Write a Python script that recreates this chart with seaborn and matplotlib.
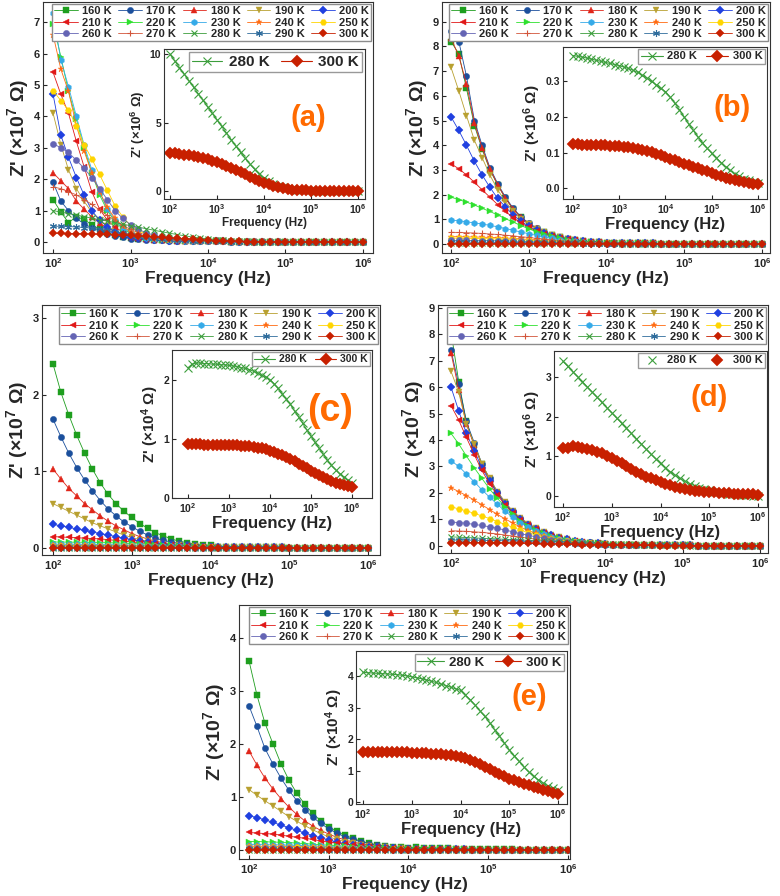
import pandas as pd
import seaborn as sns
import matplotlib.pyplot as plt

# frequency grid (Hz), 10 points per decade
freq = [100, 126, 158, 200, 251, 316, 398, 501, 631, 794,
        1000, 1259, 1585, 1995, 2512, 3162, 3981, 5012, 6310, 7943,
        10000, 12589, 15849, 19953, 25119, 31623, 39811, 50119, 63096, 79433,
        100000, 125893, 158489, 199526, 251189, 316228, 398107, 501187, 630957, 794328,
        1000000]

temps = [160, 170, 180, 190, 200, 210, 220, 230, 240, 250, 260, 270, 280, 290, 300]

# high-frequency tails (read as ~0 beyond 10 kHz)
tail_hi = [0.05, 0.045, 0.04, 0.035, 0.03, 0.027, 0.024, 0.021, 0.018, 0.016,
           0.014, 0.012, 0.01, 0.009, 0.008, 0.007, 0.006, 0.005, 0.004, 0.003]
tail_lo = [0.02, 0.018, 0.016, 0.014, 0.012, 0.011, 0.01, 0.009, 0.008, 0.007,
           0.006, 0.005, 0.005, 0.004, 0.004, 0.003, 0.003, 0.002, 0.002, 0.001]
tail_min = [0.003, 0.003, 0.003, 0.002, 0.002, 0.002, 0.002, 0.002, 0.002, 0.001,
            0.001, 0.001, 0.001, 0.001, 0.001, 0.001, 0.0, 0.0, 0.0, 0.0]

# ---- panel (a), Z' in 1e7 ohm, 100 Hz .. 10 kHz
a160 = [1.35, 0.95, 0.62, 0.80, 0.72, 0.55, 0.40, 0.30, 0.22, 0.16, 0.12, 0.10, 0.08, 0.07, 0.06, 0.05, 0.045, 0.04, 0.035, 0.03, 0.025]
a170 = [1.9, 1.3, 1.0, 0.75, 0.58, 0.45, 0.35, 0.27, 0.2, 0.15, 0.11, 0.09, 0.07, 0.06, 0.05, 0.04, 0.035, 0.03, 0.025, 0.02, 0.02]
a180 = [2.2, 1.95, 1.7, 1.3, 1.05, 0.8, 0.6, 0.45, 0.33, 0.24, 0.17, 0.12, 0.09, 0.07, 0.06, 0.05, 0.04, 0.035, 0.03, 0.025, 0.02]
a190 = [4.1, 3.1, 2.3, 1.7, 1.3, 0.95, 0.7, 0.5, 0.36, 0.26, 0.19, 0.14, 0.1, 0.08, 0.065, 0.055, 0.045, 0.04, 0.035, 0.03, 0.025]
a200 = [4.7, 3.4, 2.7, 2.05, 1.5, 1.0, 0.7, 0.48, 0.33, 0.23, 0.16, 0.12, 0.09, 0.07, 0.055, 0.045, 0.04, 0.035, 0.03, 0.025, 0.02]
a210 = [5.4, 4.7, 4.1, 3.2, 2.4, 1.6, 1.05, 0.7, 0.47, 0.32, 0.22, 0.16, 0.12, 0.09, 0.07, 0.06, 0.05, 0.04, 0.035, 0.03, 0.025]
a220 = [6.95, 5.9, 4.8, 3.9, 3.0, 2.2, 1.5, 1.0, 0.65, 0.42, 0.28, 0.19, 0.13, 0.09, 0.07, 0.06, 0.05, 0.04, 0.035, 0.03, 0.025]
a230 = [7.28, 5.8, 4.95, 4.0, 3.1, 2.3, 1.6, 1.05, 0.7, 0.45, 0.3, 0.2, 0.14, 0.1, 0.08, 0.06, 0.05, 0.04, 0.035, 0.03, 0.025]
a240 = [6.6, 5.5, 4.8, 3.7, 2.9, 2.2, 1.6, 1.1, 0.75, 0.5, 0.33, 0.23, 0.16, 0.11, 0.08, 0.06, 0.05, 0.04, 0.035, 0.03, 0.025]
a250 = [4.82, 4.5, 4.2, 3.7, 3.1, 2.65, 2.15, 1.65, 1.15, 0.8, 0.52, 0.36, 0.26, 0.19, 0.14, 0.11, 0.09, 0.07, 0.06, 0.05, 0.04]
a260 = [3.13, 3.0, 2.85, 2.6, 2.35, 2.05, 1.7, 1.35, 1.0, 0.75, 0.55, 0.4, 0.3, 0.22, 0.16, 0.12, 0.09, 0.07, 0.06, 0.05, 0.04]
a270 = [1.75, 1.7, 1.6, 1.5, 1.35, 1.2, 1.02, 0.85, 0.68, 0.53, 0.4, 0.3, 0.22, 0.16, 0.12, 0.09, 0.07, 0.06, 0.05, 0.04, 0.035]
a290 = [0.5, 0.5, 0.49, 0.48, 0.46, 0.44, 0.41, 0.37, 0.33, 0.28, 0.23, 0.19, 0.15, 0.12, 0.1, 0.08, 0.065, 0.055, 0.045, 0.04, 0.035]
# inset (a), 1e6 ohm
ia280 = [10.0, 9.52, 9.04, 8.56, 8.08, 7.6, 7.12, 6.64, 6.16, 5.68, 5.2, 4.72, 4.24, 3.76, 3.28, 2.82, 2.38, 1.96, 1.58, 1.25,
         0.96, 0.72, 0.53, 0.38, 0.27, 0.19, 0.13, 0.09, 0.06, 0.04, 0.03, 0.02, 0.015, 0.01, 0.01, 0.005, 0.005, 0.0, 0.0, 0.0, 0.0]
ia300 = [2.8, 2.75, 2.7, 2.65, 2.6, 2.55, 2.5, 2.42, 2.33, 2.22, 2.1, 1.97, 1.83, 1.68, 1.52, 1.36, 1.2, 1.04, 0.88, 0.73,
         0.6, 0.47, 0.36, 0.27, 0.19, 0.13, 0.09, 0.06, 0.04, 0.03, 0.02, 0.015, 0.01, 0.01, 0.01, 0.01, 0.005, 0.005, 0.005, 0.0, 0.0]

# ---- panel (b)
b160 = [8.2, 7.7, 6.3, 4.8, 3.85, 3.0, 2.4, 1.85, 1.42, 1.08, 0.83, 0.63, 0.48, 0.37, 0.28, 0.21, 0.16, 0.12, 0.1, 0.08, 0.06]
b170 = [8.62, 8.2, 6.8, 5.0, 4.0, 3.1, 2.45, 1.9, 1.45, 1.1, 0.85, 0.65, 0.5, 0.38, 0.29, 0.22, 0.17, 0.13, 0.1, 0.08, 0.06]
b180 = [8.35, 7.6, 6.5, 4.9, 3.9, 3.05, 2.4, 1.85, 1.42, 1.08, 0.83, 0.64, 0.49, 0.37, 0.28, 0.21, 0.16, 0.12, 0.1, 0.08, 0.06]
b190 = [7.15, 6.2, 5.2, 4.2, 3.5, 2.8, 2.2, 1.72, 1.33, 1.02, 0.8, 0.62, 0.48, 0.37, 0.28, 0.21, 0.16, 0.12, 0.1, 0.08, 0.06]
b200 = [5.15, 4.6, 4.0, 3.35, 2.8, 2.3, 1.85, 1.5, 1.18, 0.92, 0.72, 0.56, 0.44, 0.34, 0.26, 0.2, 0.15, 0.12, 0.09, 0.07, 0.05]
b210 = [3.25, 3.05, 2.8, 2.5, 2.2, 1.9, 1.6, 1.32, 1.07, 0.86, 0.68, 0.53, 0.41, 0.32, 0.25, 0.19, 0.15, 0.11, 0.09, 0.07, 0.05]
b220 = [1.9, 1.8, 1.7, 1.58, 1.45, 1.32, 1.18, 1.03, 0.89, 0.75, 0.62, 0.5, 0.4, 0.31, 0.24, 0.18, 0.14, 0.1, 0.08, 0.06, 0.05]
b230 = [0.97, 0.94, 0.9, 0.86, 0.81, 0.76, 0.7, 0.63, 0.56, 0.49, 0.42, 0.35, 0.29, 0.23, 0.18, 0.14, 0.11, 0.08, 0.06, 0.05, 0.04]
b240 = [0.3, 0.3, 0.29, 0.29, 0.28, 0.27, 0.26, 0.25, 0.23, 0.21, 0.19, 0.17, 0.15, 0.12, 0.1, 0.08, 0.07, 0.06, 0.05, 0.04, 0.03]
b250 = [0.24, 0.24, 0.23, 0.23, 0.22, 0.22, 0.21, 0.2, 0.19, 0.17, 0.16, 0.14, 0.12, 0.1, 0.09, 0.07, 0.06, 0.05, 0.04, 0.03, 0.03]
b260 = [0.15, 0.15, 0.15, 0.14, 0.14, 0.14, 0.13, 0.13, 0.12, 0.11, 0.1, 0.09, 0.08, 0.07, 0.06, 0.05, 0.04, 0.035, 0.03, 0.025, 0.02]
b270 = [0.48, 0.47, 0.46, 0.45, 0.43, 0.41, 0.39, 0.36, 0.33, 0.3, 0.27, 0.23, 0.2, 0.17, 0.14, 0.11, 0.09, 0.07, 0.06, 0.05, 0.04]
b290 = [0.08, 0.08, 0.08, 0.08, 0.075, 0.075, 0.07, 0.07, 0.065, 0.06, 0.055, 0.05, 0.045, 0.04, 0.035, 0.03, 0.025, 0.02, 0.02, 0.015, 0.015]
ib280 = [0.371, 0.369, 0.367, 0.364, 0.361, 0.358, 0.355, 0.352, 0.349, 0.346, 0.343, 0.339, 0.335, 0.33, 0.324, 0.316, 0.308, 0.299, 0.289, 0.279,
         0.27, 0.255, 0.238, 0.22, 0.2, 0.18, 0.162, 0.144, 0.127, 0.112, 0.098, 0.085, 0.072, 0.06, 0.05, 0.041, 0.034, 0.027, 0.022, 0.018, 0.014]
ib300 = [0.123, 0.123, 0.122, 0.122, 0.121, 0.121, 0.12, 0.12, 0.119, 0.118, 0.117, 0.116, 0.114, 0.112, 0.11, 0.107, 0.104, 0.101, 0.097, 0.093,
         0.088, 0.083, 0.079, 0.074, 0.069, 0.065, 0.06, 0.056, 0.051, 0.047, 0.042, 0.038, 0.034, 0.03, 0.026, 0.023, 0.02, 0.018, 0.015, 0.013, 0.011]

# ---- panel (c)
c160 = [2.4, 2.03, 1.74, 1.47, 1.24, 1.03, 0.85, 0.7, 0.58, 0.48, 0.4, 0.32, 0.26, 0.2, 0.16, 0.12, 0.09, 0.07, 0.055, 0.045, 0.035]
c170 = [1.68, 1.45, 1.24, 1.05, 0.89, 0.75, 0.62, 0.51, 0.42, 0.34, 0.28, 0.22, 0.17, 0.13, 0.1, 0.08, 0.06, 0.05, 0.04, 0.03, 0.025]
c180 = [1.03, 0.9, 0.78, 0.68, 0.58, 0.5, 0.42, 0.35, 0.29, 0.24, 0.19, 0.15, 0.12, 0.09, 0.07, 0.055, 0.045, 0.035, 0.03, 0.025, 0.02]
c190 = [0.58, 0.53, 0.48, 0.43, 0.38, 0.33, 0.29, 0.25, 0.21, 0.17, 0.14, 0.11, 0.09, 0.07, 0.055, 0.045, 0.035, 0.03, 0.025, 0.02, 0.015]
c200 = [0.31, 0.29, 0.27, 0.25, 0.23, 0.21, 0.19, 0.17, 0.15, 0.13, 0.11, 0.09, 0.075, 0.06, 0.05, 0.04, 0.03, 0.025, 0.02, 0.017, 0.015]
c210 = [0.15, 0.145, 0.14, 0.135, 0.13, 0.125, 0.12, 0.11, 0.1, 0.09, 0.08, 0.07, 0.06, 0.05, 0.04, 0.035, 0.03, 0.025, 0.02, 0.015, 0.012]
c220 = [0.08, 0.079, 0.078, 0.077, 0.076, 0.074, 0.072, 0.07, 0.067, 0.064, 0.06, 0.055, 0.05, 0.045, 0.04, 0.035, 0.03, 0.025, 0.02, 0.016, 0.013]
c230 = [0.05, 0.05, 0.049, 0.049, 0.048, 0.047, 0.046, 0.045, 0.043, 0.041, 0.039, 0.036, 0.033, 0.03, 0.027, 0.024, 0.021, 0.018, 0.015, 0.013, 0.011]
c240 = [0.035, 0.035, 0.035, 0.034, 0.034, 0.033, 0.033, 0.032, 0.031, 0.03, 0.028, 0.026, 0.024, 0.022, 0.02, 0.018, 0.016, 0.014, 0.012, 0.01, 0.009]
c250 = [0.025, 0.025, 0.025, 0.025, 0.024, 0.024, 0.024, 0.023, 0.023, 0.022, 0.021, 0.02, 0.019, 0.017, 0.016, 0.014, 0.013, 0.011, 0.01, 0.009, 0.008]
c260 = [0.015, 0.015, 0.015, 0.015, 0.015, 0.015, 0.014, 0.014, 0.014, 0.013, 0.013, 0.012, 0.012, 0.011, 0.01, 0.01, 0.009, 0.008, 0.007, 0.006, 0.006]
c270 = [0.01, 0.01, 0.01, 0.01, 0.01, 0.01, 0.01, 0.01, 0.009, 0.009, 0.009, 0.009, 0.008, 0.008, 0.007, 0.007, 0.006, 0.006, 0.005, 0.005, 0.004]
c290 = [0.005, 0.005, 0.005, 0.005, 0.005, 0.005, 0.005, 0.005, 0.005, 0.005, 0.005, 0.005, 0.005, 0.004, 0.004, 0.004, 0.004, 0.003, 0.003, 0.003, 0.003]
# inset (c), 1e4 ohm
ic280 = [2.2, 2.26, 2.28, 2.28, 2.27, 2.27, 2.26, 2.26, 2.25, 2.25, 2.24, 2.23, 2.22, 2.2, 2.19, 2.17, 2.14, 2.11, 2.07, 2.04,
         2.0, 1.93, 1.85, 1.76, 1.67, 1.58, 1.47, 1.37, 1.26, 1.15, 1.05, 0.94, 0.84, 0.74, 0.64, 0.55, 0.48, 0.41, 0.35, 0.3, 0.26]
ic300 = [0.91, 0.91, 0.91, 0.91, 0.9, 0.9, 0.9, 0.9, 0.9, 0.9, 0.89, 0.89, 0.89, 0.88, 0.88, 0.87, 0.86, 0.85, 0.84, 0.82,
         0.8, 0.78, 0.75, 0.72, 0.69, 0.66, 0.62, 0.58, 0.54, 0.5, 0.46, 0.42, 0.39, 0.35, 0.32, 0.29, 0.26, 0.24, 0.22, 0.2, 0.18]

# ---- panel (d)
d160 = [8.1, 6.2, 4.7, 3.8, 3.1, 2.5, 2.0, 1.6, 1.25, 0.95, 0.72, 0.55, 0.42, 0.32, 0.25, 0.19, 0.15, 0.12, 0.1, 0.08, 0.065]
d170 = [7.4, 6.1, 4.7, 3.9, 3.1, 2.55, 2.05, 1.65, 1.3, 1.05, 0.84, 0.67, 0.53, 0.42, 0.33, 0.26, 0.2, 0.16, 0.13, 0.1, 0.08]
d180 = [7.3, 5.9, 4.6, 3.8, 3.05, 2.5, 2.0, 1.6, 1.27, 1.02, 0.82, 0.65, 0.52, 0.41, 0.32, 0.25, 0.2, 0.16, 0.12, 0.1, 0.08]
d190 = [6.6, 5.8, 4.6, 3.85, 3.1, 2.55, 2.05, 1.65, 1.3, 1.04, 0.83, 0.66, 0.52, 0.41, 0.32, 0.25, 0.2, 0.16, 0.12, 0.1, 0.08]
d200 = [6.0, 5.1, 4.25, 3.6, 2.95, 2.45, 1.98, 1.6, 1.27, 1.0, 0.8, 0.63, 0.5, 0.4, 0.31, 0.25, 0.2, 0.15, 0.12, 0.1, 0.08]
d210 = [5.3, 4.75, 4.1, 3.45, 2.85, 2.35, 1.92, 1.55, 1.23, 0.98, 0.78, 0.62, 0.49, 0.39, 0.31, 0.24, 0.19, 0.15, 0.12, 0.1, 0.08]
d220 = [4.25, 3.85, 3.4, 2.95, 2.55, 2.15, 1.8, 1.48, 1.19, 0.95, 0.76, 0.6, 0.48, 0.38, 0.3, 0.24, 0.19, 0.15, 0.12, 0.1, 0.08]
d230 = [3.22, 3.0, 2.72, 2.42, 2.12, 1.84, 1.57, 1.31, 1.08, 0.88, 0.7, 0.55, 0.43, 0.34, 0.27, 0.21, 0.17, 0.13, 0.1, 0.08, 0.07]
d240 = [2.2, 2.05, 1.9, 1.73, 1.55, 1.37, 1.19, 1.02, 0.86, 0.71, 0.58, 0.47, 0.38, 0.3, 0.24, 0.19, 0.15, 0.12, 0.1, 0.08, 0.06]
d250 = [1.47, 1.4, 1.32, 1.23, 1.13, 1.03, 0.92, 0.81, 0.7, 0.6, 0.5, 0.41, 0.33, 0.27, 0.22, 0.18, 0.14, 0.11, 0.09, 0.07, 0.06]
d260 = [0.9, 0.88, 0.85, 0.81, 0.77, 0.72, 0.66, 0.6, 0.53, 0.46, 0.4, 0.34, 0.28, 0.23, 0.19, 0.15, 0.12, 0.1, 0.08, 0.06, 0.05]
d270 = [0.57, 0.56, 0.55, 0.53, 0.51, 0.48, 0.45, 0.41, 0.37, 0.33, 0.29, 0.25, 0.21, 0.18, 0.15, 0.12, 0.1, 0.08, 0.065, 0.05, 0.04]
d290 = [0.22, 0.22, 0.22, 0.21, 0.21, 0.2, 0.2, 0.19, 0.18, 0.17, 0.16, 0.15, 0.13, 0.12, 0.1, 0.09, 0.08, 0.07, 0.06, 0.05, 0.04]
id280 = [3.4, 3.27, 3.14, 3.01, 2.88, 2.75, 2.62, 2.49, 2.36, 2.23, 2.1, 1.97, 1.84, 1.71, 1.58, 1.45, 1.32, 1.19, 1.06, 0.94,
         0.82, 0.71, 0.61, 0.52, 0.44, 0.37, 0.31, 0.26, 0.21, 0.17, 0.14, 0.11, 0.09, 0.07, 0.05, 0.04, 0.03, 0.02, 0.02, 0.01, 0.01]
id300 = [1.2, 1.22, 1.25, 1.24, 1.22, 1.19, 1.16, 1.12, 1.08, 1.02, 0.96, 0.89, 0.82, 0.75, 0.68, 0.61, 0.55, 0.49, 0.44, 0.4,
         0.36, 0.31, 0.27, 0.23, 0.2, 0.17, 0.15, 0.13, 0.12, 0.11, 0.1, 0.09, 0.08, 0.07, 0.07, 0.06, 0.05, 0.05, 0.04, 0.04, 0.03]

# ---- panel (e)
e160 = [3.57, 2.92, 2.4, 2.0, 1.63, 1.32, 1.07, 0.86, 0.69, 0.55, 0.44, 0.35, 0.28, 0.22, 0.17, 0.13, 0.1, 0.08, 0.06, 0.05, 0.04]
e170 = [2.72, 2.33, 1.92, 1.62, 1.36, 1.13, 0.93, 0.76, 0.62, 0.5, 0.4, 0.32, 0.25, 0.2, 0.16, 0.12, 0.09, 0.07, 0.055, 0.045, 0.035]
e180 = [1.87, 1.6, 1.36, 1.15, 0.97, 0.81, 0.67, 0.55, 0.45, 0.37, 0.3, 0.24, 0.19, 0.15, 0.12, 0.09, 0.07, 0.055, 0.045, 0.035, 0.03]
e190 = [1.14, 1.03, 0.93, 0.83, 0.73, 0.63, 0.54, 0.46, 0.38, 0.31, 0.25, 0.2, 0.16, 0.13, 0.1, 0.08, 0.06, 0.05, 0.04, 0.03, 0.025]
e200 = [0.65, 0.61, 0.57, 0.52, 0.47, 0.42, 0.37, 0.32, 0.27, 0.23, 0.19, 0.15, 0.12, 0.1, 0.08, 0.06, 0.05, 0.04, 0.03, 0.025, 0.02]
e210 = [0.33, 0.32, 0.31, 0.3, 0.28, 0.26, 0.24, 0.22, 0.2, 0.17, 0.15, 0.13, 0.11, 0.09, 0.07, 0.06, 0.05, 0.04, 0.03, 0.025, 0.02]
e220 = [0.16, 0.16, 0.155, 0.15, 0.145, 0.14, 0.13, 0.12, 0.11, 0.1, 0.09, 0.08, 0.07, 0.06, 0.05, 0.04, 0.035, 0.03, 0.025, 0.02, 0.015]
e230 = [0.1, 0.1, 0.098, 0.096, 0.094, 0.09, 0.086, 0.082, 0.077, 0.071, 0.065, 0.058, 0.051, 0.044, 0.037, 0.031, 0.026, 0.022, 0.018, 0.015, 0.012]
e240 = [0.07, 0.07, 0.069, 0.068, 0.067, 0.065, 0.063, 0.06, 0.057, 0.053, 0.049, 0.045, 0.04, 0.035, 0.03, 0.026, 0.022, 0.018, 0.015, 0.012, 0.01]
e250 = [0.05, 0.05, 0.05, 0.049, 0.049, 0.048, 0.047, 0.045, 0.043, 0.041, 0.038, 0.035, 0.031, 0.028, 0.024, 0.021, 0.018, 0.015, 0.012, 0.01, 0.008]
e260 = [0.03, 0.03, 0.03, 0.03, 0.029, 0.029, 0.028, 0.028, 0.027, 0.026, 0.024, 0.022, 0.02, 0.018, 0.016, 0.014, 0.012, 0.01, 0.008, 0.007, 0.006]
e270 = [0.02, 0.02, 0.02, 0.02, 0.02, 0.019, 0.019, 0.019, 0.018, 0.018, 0.017, 0.016, 0.015, 0.013, 0.012, 0.01, 0.009, 0.008, 0.007, 0.006, 0.005]
e290 = [0.01, 0.01, 0.01, 0.01, 0.01, 0.01, 0.01, 0.01, 0.01, 0.009, 0.009, 0.009, 0.008, 0.008, 0.007, 0.007, 0.006, 0.005, 0.005, 0.004, 0.004]
ie280 = [4.12, 4.11, 4.1, 4.09, 4.08, 4.07, 4.06, 4.05, 4.03, 4.01, 3.98, 3.95, 3.92, 3.88, 3.84, 3.8, 3.75, 3.7, 3.65, 3.6,
         3.55, 3.4, 3.25, 3.08, 2.9, 2.72, 2.52, 2.3, 2.1, 1.88, 1.66, 1.48, 1.3, 1.12, 0.96, 0.82, 0.7, 0.6, 0.51, 0.44, 0.38]
ie300 = [1.6, 1.6, 1.6, 1.6, 1.59, 1.59, 1.59, 1.58, 1.58, 1.58, 1.57, 1.57, 1.56, 1.55, 1.54, 1.53, 1.52, 1.51, 1.49, 1.47,
         1.44, 1.39, 1.33, 1.27, 1.2, 1.12, 1.05, 0.97, 0.9, 0.82, 0.75, 0.7, 0.64, 0.59, 0.54, 0.49, 0.44, 0.39, 0.34, 0.3, 0.25]

colors = ['#1e9e1e', '#1b4f9c', '#e0261a', '#b8a030', '#2040e0', '#e01818', '#2ee02e', '#35aae8',
          '#ff6a10', '#ffd500', '#6464b4', '#d2553a', '#3c9e3c', '#2f6c9c', '#c82000']
markers = ['s', 'o', '^', 'v', 'D', '<', '>', 'h', '*', 'H', 'o', '+', 'x', (6, 2, 0), 'D']
ORANGE = '#ff6a00'

sns.set_theme(style='ticks')
plt.rcParams['font.family'] = ['Liberation Sans', 'DejaVu Sans']
plt.rcParams['font.weight'] = 'bold'
plt.rcParams['mathtext.fontset'] = 'custom'
plt.rcParams['mathtext.rm'] = 'Liberation Sans:bold'
plt.rcParams['mathtext.bf'] = 'Liberation Sans:bold'
plt.rcParams['mathtext.it'] = 'Liberation Sans:bold'
plt.rcParams['axes.edgecolor'] = '#333333'
plt.rcParams['axes.linewidth'] = 0.8

fig = plt.figure(figsize=(7.8, 8.96), dpi=100)


def rect(x0, y0, x1, y1):
    return [x0 / 780, 1 - y1 / 896, (x1 - x0) / 780, (y1 - y0) / 896]


def full(head):
    if head[-1] >= 0.04:
        return head + tail_hi
    if head[-1] >= 0.015:
        return head + tail_lo
    return head + tail_min


def style_axes(ax, xlim, ylim, yticks, ytl, fs):
    ax.set_xscale('log')
    ax.set_xlim(*xlim)
    ax.set_ylim(*ylim)
    ax.set_xticks([1e2, 1e3, 1e4, 1e5, 1e6])
    ax.set_xticklabels([r'$10^{%d}$' % k for k in range(2, 7)], fontsize=fs)
    ax.minorticks_off()
    ax.set_yticks(yticks)
    ax.set_yticklabels(ytl, fontsize=fs, fontweight='bold')
    ax.tick_params(direction='in', length=3, width=0.8, pad=2)


def main_panel(box, heads, i280, i300, scale, xlim, ylim, ymax):
    ax = fig.add_axes(rect(*box))
    series = heads[:12] + [[v * scale for v in i280]] + [heads[12]] + [[v * scale for v in i300]]
    for k, t in enumerate(temps):
        vals = series[k] if len(series[k]) == 41 else full(series[k])
        df = pd.DataFrame({'f': freq, 'z': vals})
        m = markers[k]
        line_art = m in ('+', 'x') or isinstance(m, tuple)
        sns.lineplot(data=df, x='f', y='z', ax=ax, color=colors[k], marker=m,
                     markersize=5 if line_art else 4.5, markeredgecolor=colors[k],
                     markeredgewidth=0.8 if line_art else 0.3, linewidth=0.6,
                     label=f'{t} K', errorbar=None, sort=False)
    style_axes(ax, xlim, ylim, list(range(ymax + 1)), [str(v) for v in range(ymax + 1)], 8)
    ax.set_xlabel('Frequency (Hz)', fontsize=12.5, fontweight='bold', labelpad=1)
    ax.set_ylabel("Z' (×10$^7$ Ω)", fontsize=14, fontweight='bold', labelpad=2)
    h, l = ax.get_legend_handles_labels()
    order = [r * 5 + c for c in range(5) for r in range(3)]
    ax.legend([h[i] for i in order], [l[i] for i in order], ncol=5, loc='upper right',
              prop={'size': 8, 'weight': 'bold'}, handlelength=2.1, handletextpad=0.4,
              columnspacing=0.6, labelspacing=0.15, borderpad=0.2, borderaxespad=0.15,
              fancybox=False, edgecolor='0.55', framealpha=1)
    return ax


def inset_panel(box, i280, i300, xlim, ylim, yticks, ytl, power, letter, lpos, lsize,
                leg_fs, lab_fs, ylab_fs, leg_lines=True):
    ax = fig.add_axes(rect(*box))
    df = pd.DataFrame({'f': freq, '280': i280, '300': i300})
    sns.lineplot(data=df, x='f', y='280', ax=ax, color=colors[12], marker='x', markersize=6,
                 markeredgecolor=colors[12], markeredgewidth=0.8, linewidth=0.8,
                 label='280 K', errorbar=None, sort=False)
    sns.lineplot(data=df, x='f', y='300', ax=ax, color=colors[14], marker='D', markersize=6,
                 markeredgecolor=colors[14], markeredgewidth=0.3, linewidth=0.8,
                 label='300 K', errorbar=None, sort=False)
    style_axes(ax, xlim, ylim, yticks, ytl, 7.5)
    ax.set_xlabel('Frequency (Hz)', fontsize=lab_fs, fontweight='bold', labelpad=1)
    ax.set_ylabel("Z' (×10$^%d$ Ω)" % power, fontsize=ylab_fs, fontweight='bold', labelpad=2)
    leg = ax.legend(ncol=2, loc='upper right', prop={'size': leg_fs, 'weight': 'bold'},
                    handlelength=2.0, handletextpad=0.4, columnspacing=0.8, borderpad=0.2,
                    borderaxespad=0.2, fancybox=False, edgecolor='0.6', framealpha=1)
    if not leg_lines:
        for hnd in leg.legend_handles:
            hnd.set_linestyle('none')
    ax.text(lpos[0], lpos[1], letter, transform=ax.transAxes, color=ORANGE,
            fontsize=lsize, fontweight='bold', ha='center', va='center')
    return ax


# (a)
main_panel((43, 2, 373, 253), [a160, a170, a180, a190, a200, a210, a220, a230, a240, a250, a260, a270, a290],
           ia280, ia300, 0.1, (10 ** 1.87, 10 ** 6.13), (-0.35, 7.64), 7)
inset_panel((164, 49, 365, 199), ia280, ia300, (10 ** 1.87, 10 ** 6.15), (-0.6, 10.4), [0, 5, 10],
            ['0', '5', '10'], 6, '(a)', (0.72, 0.54), 21, 11, 8.5, 9.5)

# (b)
main_panel((442, 2, 770, 253), [b160, b170, b180, b190, b200, b210, b220, b230, b240, b250, b260, b270, b290],
           ib280, ib300, 0.1, (10 ** 1.884, 10 ** 6.103), (-0.36, 9.8), 9)
inset_panel((563, 47, 767, 199), ib280, ib300, (10 ** 1.784, 10 ** 6.195), (-0.03, 0.395),
            [0.0, 0.1, 0.2, 0.3], ['0.0', '0.1', '0.2', '0.3'], 6, '(b)', (0.83, 0.6), 21, 8, 12, 11)

# (c)
main_panel((42, 305, 380, 555), [c160, c170, c180, c190, c200, c210, c220, c230, c240, c250, c260, c270, c290],
           ic280, ic300, 0.001, (10 ** 1.86, 10 ** 6.15), (-0.09, 3.17), 3)
inset_panel((172, 350, 372, 498), ic280, ic300, (10 ** 1.61, 10 ** 6.49), (0, 2.5), [0, 1, 2],
            ['0', '1', '2'], 4, '(c)', (0.79, 0.59), 27, 7.5, 12, 11)

# (d)
main_panel((438, 305, 768, 553), [d160, d170, d180, d190, d200, d210, d220, d230, d240, d250, d260, d270, d290],
           id280, id300, 0.1, (10 ** 1.832, 10 ** 6.104), (-0.27, 9.1), 9)
inset_panel((554, 351, 767, 507), id280, id300, (10 ** 1.815, 10 ** 6.185), (-0.28, 3.66), [0, 1, 2, 3],
            ['0', '1', '2', '3'], 6, '(d)', (0.73, 0.7), 21, 8, 12, 11, leg_lines=False)

# (e)
main_panel((239, 605, 570, 859), [e160, e170, e180, e190, e200, e210, e220, e230, e240, e250, e260, e270, e290],
           ie280, ie300, 0.001, (10 ** 1.875, 10 ** 6.025), (-0.17, 4.62), 4)
inset_panel((356, 651, 567, 804), ie280, ie300, (10 ** 1.856, 10 ** 6.185), (-0.06, 4.8), [0, 1, 2, 3, 4],
            ['0', '1', '2', '3', '4'], 4, '(e)', (0.82, 0.7), 21, 9.5, 12, 11)

fig.savefig('out.png', dpi=100)
